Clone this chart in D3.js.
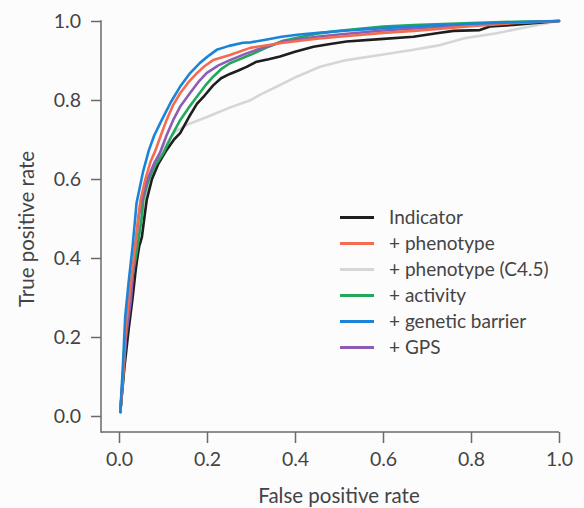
<!DOCTYPE html>
<html lang="en">
  <head>
    <meta charset="UTF-8" />
    <script src="https://d3js.org/d3.v7.min.js"></script>
    <title>ROC curves</title>
    <style>
      body {
        margin: 0;
        background: #fcfcfd;
      }
      svg text {
        font-family: Lato, 'Open Sans', sans-serif;
        fill: #444;
      }
    </style>
  </head>
  <body>
    <svg id="chart" width="584" height="508"></svg>
  </body>
  <script>
    // ROC points: [false positive rate, true positive rate]
    const indicator = [
      [0.003, 0.01], [0.012, 0.12], [0.022, 0.22], [0.031, 0.3], [0.038, 0.37],
      [0.041, 0.395], [0.046, 0.43], [0.052, 0.453], [0.058, 0.505], [0.063, 0.547],
      [0.075, 0.6], [0.09, 0.64], [0.108, 0.673], [0.125, 0.7], [0.139, 0.716],
      [0.158, 0.755], [0.177, 0.79], [0.195, 0.812], [0.214, 0.837], [0.232, 0.855],
      [0.252, 0.866], [0.27, 0.874], [0.29, 0.884], [0.313, 0.897], [0.34, 0.903],
      [0.366, 0.91], [0.4, 0.922], [0.442, 0.935], [0.48, 0.942], [0.517, 0.948],
      [0.593, 0.954], [0.669, 0.96], [0.722, 0.969], [0.76, 0.975], [0.82, 0.977],
      [0.843, 0.986], [0.896, 0.99], [1, 1]
    ]
    const phenotype = [
      [0.003, 0.01], [0.01, 0.12], [0.015, 0.22], [0.025, 0.32], [0.036, 0.42],
      [0.044, 0.505], [0.049, 0.547], [0.06, 0.6], [0.072, 0.645], [0.082, 0.67],
      [0.095, 0.71], [0.108, 0.749], [0.122, 0.785], [0.139, 0.817], [0.158, 0.845],
      [0.177, 0.868], [0.195, 0.886], [0.214, 0.901], [0.252, 0.914], [0.298, 0.932],
      [0.373, 0.945], [0.45, 0.955], [0.5, 0.96], [0.6, 0.97], [0.67, 0.975],
      [0.8, 0.987], [0.9, 0.995], [1, 1]
    ]
    const phenotypeC45 = [
      [0.003, 0.01], [0.012, 0.12], [0.02, 0.25], [0.03, 0.35], [0.04, 0.42],
      [0.05, 0.5], [0.06, 0.56], [0.075, 0.61], [0.09, 0.65], [0.105, 0.685],
      [0.12, 0.71], [0.13, 0.722], [0.16, 0.74], [0.2, 0.757], [0.25, 0.78],
      [0.3, 0.8], [0.32, 0.813], [0.366, 0.838], [0.404, 0.859], [0.457, 0.884],
      [0.517, 0.901], [0.593, 0.914], [0.669, 0.927], [0.73, 0.939], [0.783, 0.956],
      [0.858, 0.969], [0.934, 0.986], [1, 1]
    ]
    const activity = [
      [0.003, 0.01], [0.011, 0.12], [0.018, 0.25], [0.027, 0.33], [0.041, 0.42],
      [0.052, 0.505], [0.055, 0.547], [0.065, 0.59], [0.08, 0.63], [0.101, 0.666],
      [0.12, 0.71], [0.139, 0.749], [0.158, 0.78], [0.177, 0.808], [0.195, 0.835],
      [0.214, 0.859], [0.232, 0.878], [0.252, 0.893], [0.3, 0.915], [0.34, 0.935],
      [0.373, 0.95], [0.45, 0.968], [0.5, 0.975], [0.6, 0.986], [0.67, 0.99],
      [0.8, 0.995], [0.9, 0.998], [1, 1]
    ]
    const geneticBarrier = [
      [0.003, 0.01], [0.009, 0.13], [0.014, 0.25], [0.022, 0.34], [0.031, 0.43],
      [0.04, 0.54], [0.055, 0.62], [0.068, 0.673], [0.08, 0.71], [0.097, 0.749],
      [0.118, 0.795], [0.139, 0.834], [0.16, 0.866], [0.184, 0.894], [0.205, 0.913],
      [0.222, 0.927], [0.25, 0.937], [0.282, 0.945], [0.3, 0.946], [0.33, 0.952],
      [0.37, 0.96], [0.41, 0.966], [0.46, 0.971], [0.52, 0.976], [0.6, 0.982],
      [0.7, 0.988], [0.8, 0.993], [0.9, 0.997], [1, 1]
    ]
    const gps = [
      [0.003, 0.01], [0.01, 0.12], [0.016, 0.2], [0.027, 0.294], [0.036, 0.42],
      [0.045, 0.505], [0.052, 0.547], [0.065, 0.6], [0.08, 0.64], [0.093, 0.666],
      [0.108, 0.71], [0.123, 0.749], [0.14, 0.785], [0.161, 0.817], [0.18, 0.845],
      [0.199, 0.868], [0.225, 0.887], [0.252, 0.901], [0.29, 0.918], [0.32, 0.93],
      [0.373, 0.948], [0.45, 0.96], [0.5, 0.966], [0.6, 0.976], [0.67, 0.981],
      [0.8, 0.99], [0.9, 0.996], [1, 1]
    ]

    const seriesNames = ['Indicator', '+ phenotype', '+ phenotype (C4.5)', '+ activity', '+ genetic barrier', '+ GPS']
    const seriesData = [indicator, phenotype, phenotypeC45, activity, geneticBarrier, gps]
    const seriesColors = ['#1e1e1e', '#f36c4f', '#d6d6d6', '#23a75b', '#1a84d9', '#8d5db6']
    const drawOrder = [2, 0, 3, 5, 1, 4]

    const ticks = [0, 0.2, 0.4, 0.6, 0.8, 1.0]

    const svg = d3.select('#chart')
    const x = d3.scaleLinear().domain([0, 1]).range([119, 559])
    const y = d3.scaleLinear().domain([0, 1]).range([416, 21])
    const axisX = 101,
      axisY = 432
    const axisColor = '#6a6a6a'

    // x axis
    const gx = svg
      .append('g')
      .attr('transform', 'translate(0,' + axisY + ')')
      .call(d3.axisBottom(x).tickValues(ticks).tickFormat(d3.format('.1f')).tickSize(11).tickSizeOuter(0).tickPadding(9))
    gx.select('.domain').remove()
    gx.selectAll('.tick line').attr('stroke', axisColor).attr('stroke-width', 1.5)
    gx.selectAll('.tick text').style('font-size', '19.5px').attr('fill', '#444')
    svg
      .append('line')
      .attr('x1', axisX)
      .attr('x2', x(1))
      .attr('y1', axisY)
      .attr('y2', axisY)
      .attr('stroke', axisColor)
      .attr('stroke-width', 1.5)

    // y axis
    const gy = svg
      .append('g')
      .attr('transform', 'translate(' + axisX + ',0)')
      .call(d3.axisLeft(y).tickValues(ticks).tickFormat(d3.format('.1f')).tickSize(10).tickSizeOuter(0).tickPadding(10))
    gy.select('.domain').remove()
    gy.selectAll('.tick line').attr('stroke', axisColor).attr('stroke-width', 1.5)
    gy.selectAll('.tick text').style('font-size', '19.5px').attr('fill', '#444')
    svg
      .append('line')
      .attr('x1', axisX)
      .attr('x2', axisX)
      .attr('y1', y(1) - 0.75)
      .attr('y2', axisY + 0.75)
      .attr('stroke', axisColor)
      .attr('stroke-width', 1.5)

    // axis titles
    svg
      .append('text')
      .attr('x', 339)
      .attr('y', 503)
      .attr('text-anchor', 'middle')
      .style('font-size', '20.5px')
      .text('False positive rate')
    svg
      .append('text')
      .attr('transform', 'translate(34,229) rotate(-90)')
      .attr('text-anchor', 'middle')
      .style('font-size', '20.5px')
      .text('True positive rate')

    // curves
    const line = d3
      .line()
      .x((d) => x(d[0]))
      .y((d) => y(d[1]))
      .curve(d3.curveLinear)
    svg
      .append('g')
      .selectAll('path')
      .data(drawOrder)
      .enter()
      .append('path')
      .attr('d', (i) => line(seriesData[i]))
      .attr('fill', 'none')
      .attr('stroke', (i) => seriesColors[i])
      .attr('stroke-width', 2.6)
      .attr('stroke-linejoin', 'round')
      .attr('stroke-linecap', 'round')

    // legend
    const legend = svg
      .append('g')
      .selectAll('g')
      .data(seriesNames)
      .enter()
      .append('g')
      .attr('transform', (d, i) => 'translate(340,' + (217.5 + i * 26) + ')')
    legend
      .append('line')
      .attr('x1', 0)
      .attr('x2', 34)
      .attr('stroke', (d, i) => seriesColors[i])
      .attr('stroke-width', 3)
    legend
      .append('text')
      .attr('x', 49)
      .attr('dy', '0.35em')
      .style('font-size', '19px')
      .text((d) => d)
  </script>
</html>
